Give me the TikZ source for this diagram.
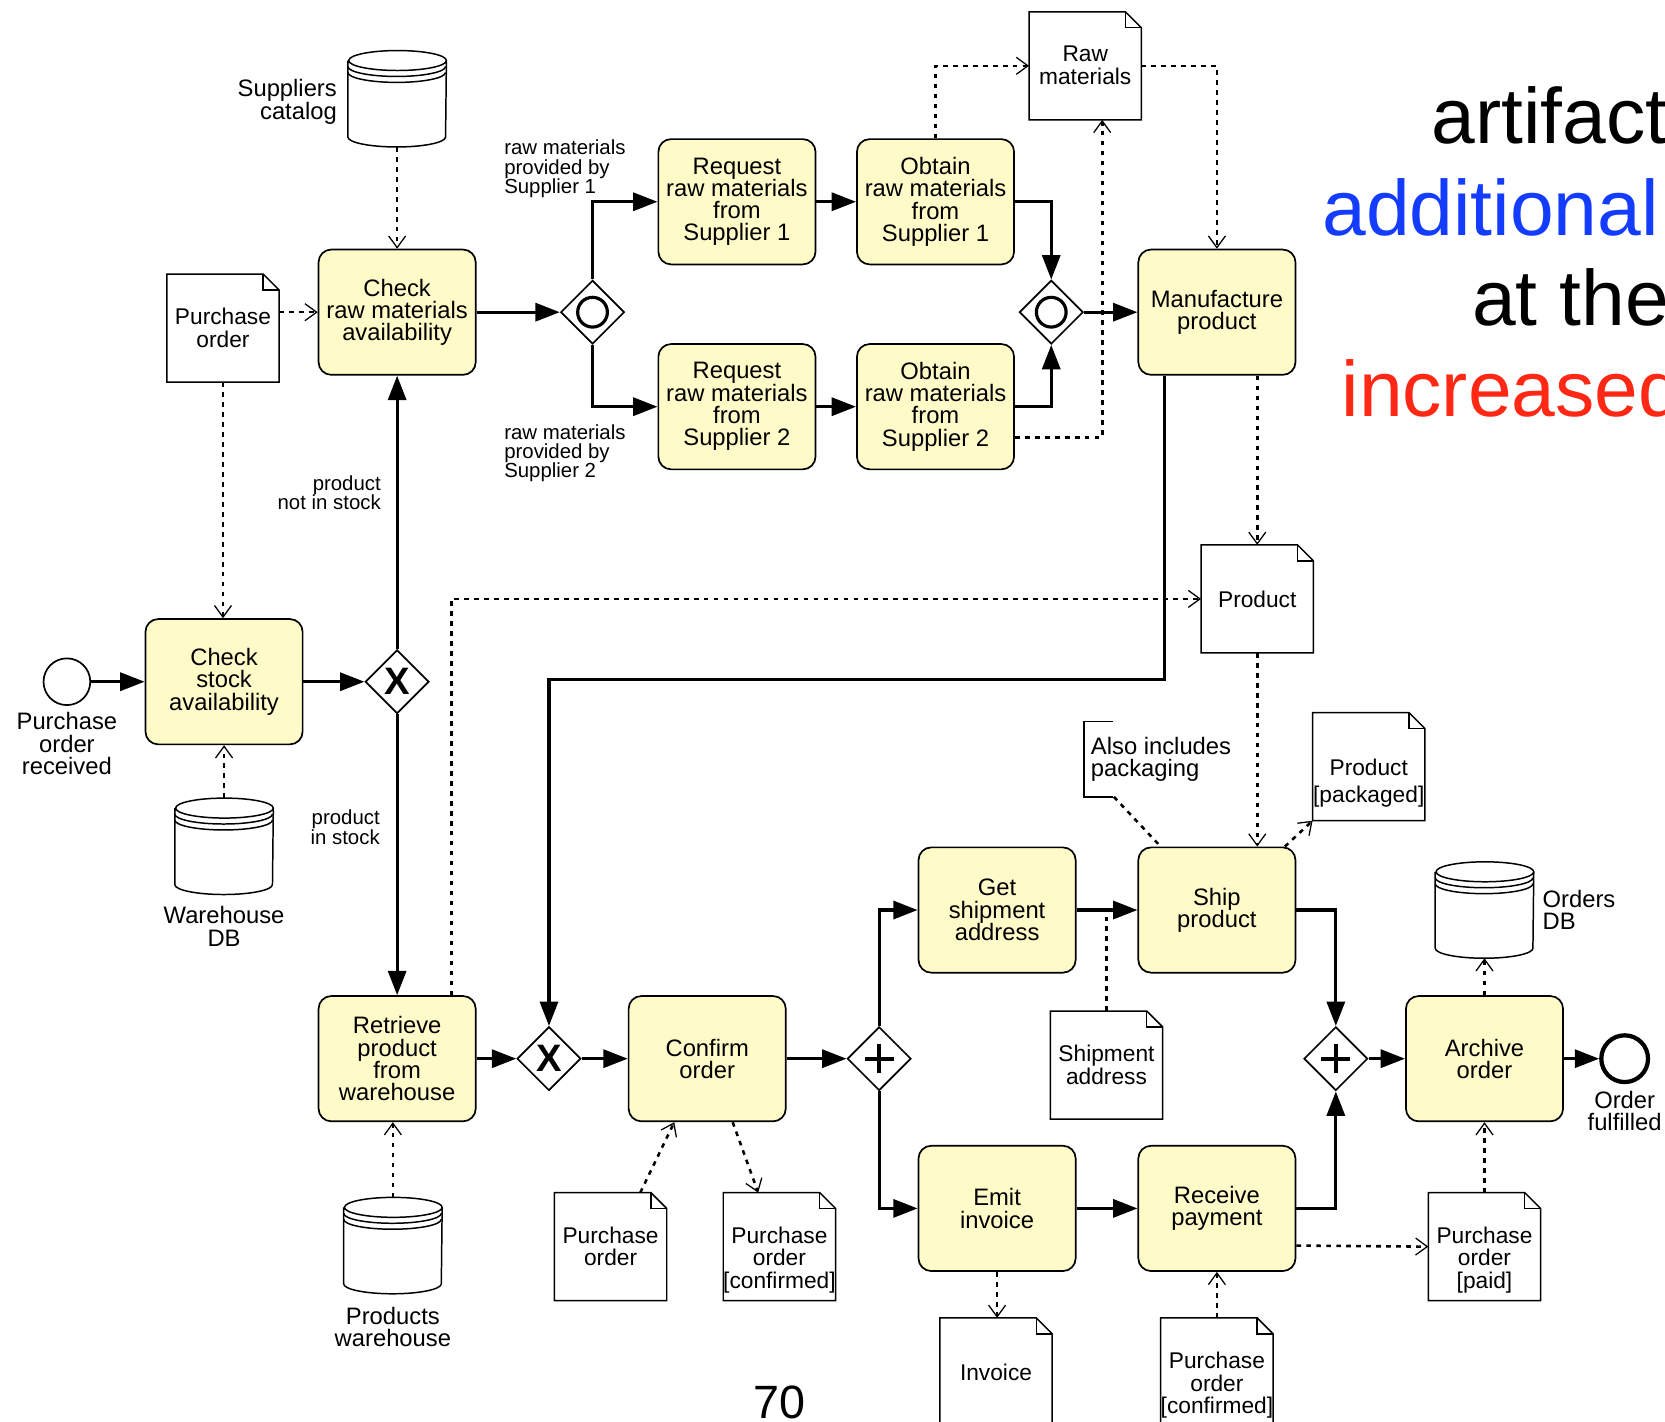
\documentclass[tikz,border=0pt]{standalone}
\usepackage{fontspec}
\setmainfont{Liberation Sans}
\usetikzlibrary{arrows.meta, shapes.geometric, positioning, calc}

\definecolor{taskfill}{RGB}{255,251,200}
\definecolor{slideblue}{RGB}{20,60,255}
\definecolor{slidered}{RGB}{255,40,20}

\newcommand{\bpmnfont}{\fontsize{11.2}{10.5}\selectfont}
\newcommand{\docfont}{\fontsize{10.7}{10.5}\selectfont}
\newcommand{\condfont}{\fontsize{9.6}{9}\selectfont}

% document with folded corner
\newcommand{\docframe}[1]{%
  \draw[docline] (#1.north west) -- ([xshift=-7.5pt]#1.north east) -- ([yshift=-7.5pt]#1.north east) -- (#1.south east) -- (#1.south west) -- cycle;
  \draw[docline] ([xshift=-7.5pt]#1.north east) |- ([yshift=-7.5pt]#1.north east);}

% data store cylinder
\newcommand{\storeframe}[1]{%
  \draw[docline] ([yshift=-4.7pt]#1.north west) -- ([yshift=4.7pt]#1.south west) arc[start angle=180, end angle=360, x radius=23pt, y radius=4.7pt] -- ([yshift=-4.7pt]#1.north east) arc[start angle=0, end angle=360, x radius=23pt, y radius=4.7pt];
  \draw[docline] ([yshift=-7.5pt]#1.north west) arc[start angle=180, end angle=360, x radius=23pt, y radius=4.7pt];
  \draw[docline] ([yshift=-10.3pt]#1.north west) arc[start angle=180, end angle=360, x radius=23pt, y radius=4.7pt];}

\begin{document}
\begin{tikzpicture}[x=0.5pt, y=-0.5pt,
    task/.style={draw, line width=0.8pt, fill=taskfill, rounded corners=6pt, minimum width=74pt, minimum height=59pt, align=center, inner sep=1pt, font=\bpmnfont},
    gate/.style={draw, line width=0.8pt, diamond, shape aspect=1, minimum width=30pt, minimum height=30pt, inner sep=0pt},
    xorgate/.style={gate, font=\fontsize{18}{18}\selectfont\bfseries},
    orgate/.style={gate, path picture={\draw[line width=1.5pt] (path picture bounding box.center) circle (7pt);}},
    andgate/.style={gate, path picture={\draw[line width=1.8pt] ([xshift=-6.8pt]path picture bounding box.center) -- ([xshift=6.8pt]path picture bounding box.center) ([yshift=-6.8pt]path picture bounding box.center) -- ([yshift=6.8pt]path picture bounding box.center);}},
    event/.style={draw, circle, minimum size=22pt, inner sep=0pt, line width=0.8pt},
    endevent/.style={event, line width=2pt},
    doc/.style={minimum width=52.5pt, minimum height=50.5pt, inner sep=0pt},
    doctext/.style={anchor=north, align=center, inner sep=0pt, font=\docfont},
    store/.style={minimum width=46pt, minimum height=45pt, inner sep=0pt},
    docline/.style={line width=0.7pt},
    caption/.style={align=center, inner sep=1pt, font=\bpmnfont},
    flowlabel/.style={inner sep=1pt, font=\condfont},
    note/.style={align=left, inner xsep=3pt, inner ysep=0pt, minimum height=35pt, font=\bpmnfont},
    flow/.style={line width=1.5pt, -{Triangle[length=11.5pt, width=8.5pt]}},
    assocline/.style={line width=1.2pt, dash pattern=on 2.2pt off 2.5pt},
    assoc/.style={assocline, -{Straight Barb[length=5.5pt, width=8pt, line width=0.6pt]}},
    bigtext/.style={anchor=base west, inner sep=0pt, font=\fontsize{37}{37}\selectfont}]

    \useasboundingbox (0,0) rectangle (1568,1339);

    % tasks
    \node[task] (chkraw) at (374,294) {Check\\raw materials\\availability};
    \node[task] (reqA) at (694,190) {Request\\raw materials\\from\\Supplier 1};
    \node[task] (obtA) at (881,190) {Obtain\\raw materials\\from\\Supplier 1};
    \node[task] (reqB) at (694,383) {Request\\raw materials\\from\\Supplier 2};
    \node[task] (obtB) at (881,383) {Obtain\\raw materials\\from\\Supplier 2};
    \node[task] (manuf) at (1146,294) {Manufacture\\product};
    \node[task] (chkstock) at (211,642) {Check\\stock\\availability};
    \node[task] (retrieve) at (374,997) {Retrieve\\product\\from\\warehouse};
    \node[task] (confirm) at (666,997) {Confirm\\order};
    \node[task] (getaddr) at (939,857) {Get\\shipment\\address};
    \node[task] (ship) at (1146,857) {Ship\\product};
    \node[task] (emit) at (939,1138) {Emit\\invoice};
    \node[task] (receive) at (1146,1138) {Receive\\payment};
    \node[task] (archive) at (1398,997) {Archive\\order};

    % gateways
    \node[orgate] (incsplit) at (558,294) {};
    \node[orgate] (incjoin) at (990,294) {};
    \node[xorgate] (xorsplit) at (374,642) {X};
    \node[xorgate] (xorjoin) at (517,997) {X};
    \node[andgate] (andsplit) at (828,997) {};
    \node[andgate] (andjoin) at (1258,997) {};

    % events
    \node[event] (start) at (63,642) {};
    \node[caption, below=2pt of start] (startlbl) {Purchase\\order\\received};
    \node[endevent] (finish) at (1530,997) {};
    \node[caption, below=2pt of finish] (finishlbl) {Order\\fulfilled};

    % data objects
    \node[doc] (po1) at (210,309) {};
    \node[doc] (rawmat) at (1022,62) {};
    \node[doc] (product) at (1184,564) {};
    \node[doc] (prodpkg) at (1289,722) {};
    \node[doc] (shipaddr) at (1042,1003) {};
    \node[doc] (po2) at (575,1174) {};
    \node[doc] (poconfA) at (734,1174) {};
    \node[doc] (invoice) at (938,1292) {};
    \node[doc] (poconfB) at (1146,1292) {};
    \node[doc] (popaid) at (1398,1174) {};
    \foreach \d in {po1, rawmat, product, prodpkg, shipaddr, po2, poconfA, invoice, poconfB, popaid}
        {\docframe{\d}}
    \node[doctext] (po1txt) at ([yshift=-16pt]po1.north) {Purchase\\order};
    \node[doctext] (rawmattxt) at ([yshift=-16pt]rawmat.north) {Raw\\materials};
    \node[doctext] (producttxt) at ([yshift=-21.5pt]product.north) {Product};
    \node[doctext] (prodpkgtxt) at ([yshift=-21.5pt]prodpkg.north) {Product\\[2.2pt]{}[packaged]};
    \node[doctext] (shipaddrtxt) at ([yshift=-16pt]shipaddr.north) {Shipment\\address};
    \node[doctext] (po2txt) at ([yshift=-16pt]po2.north) {Purchase\\order};
    \node[doctext] (poconfAtxt) at ([yshift=-16pt]poconfA.north) {Purchase\\order\\{}[confirmed]};
    \node[doctext] (invoicetxt) at ([yshift=-21.5pt]invoice.north) {Invoice};
    \node[doctext] (poconfBtxt) at ([yshift=-16pt]poconfB.north) {Purchase\\order\\{}[confirmed]};
    \node[doctext] (popaidtxt) at ([yshift=-16pt]popaid.north) {Purchase\\order\\{}[paid]};

    % data stores
    \node[store] (suppliers) at (374,93) {};
    \node[caption, align=right, left=4pt of suppliers, yshift=-1.5pt] (supplierslbl) {Suppliers\\catalog};
    \node[store] (whdb) at (211,797) {};
    \node[caption, below=4.5pt of whdb] (whdblbl) {Warehouse\\DB};
    \node[store] (prodwh) at (370,1173) {};
    \node[caption, below=5pt of prodwh] (prodwhlbl) {Products\\warehouse};
    \node[store] (ordersdb) at (1398,857) {};
    \node[caption, align=left, right=3pt of ordersdb] (ordersdblbl) {Orders\\DB};
    \foreach \s in {suppliers, whdb, prodwh, ordersdb}
        {\storeframe{\s}}

    % text annotation
    \node[note, anchor=west] (note) at (1021,715) {Also includes\\packaging};
    \draw[docline] ([xshift=13.5pt]note.north west) -- (note.north west) -- (note.south west) -- ([xshift=13.5pt]note.south west);

    % flow labels
    \node[flowlabel, align=left] (lblA) at (532,159) {raw materials\\provided by\\Supplier 1};
    \node[flowlabel, align=left] (lblB) at (532,427) {raw materials\\provided by\\Supplier 2};
    \node[flowlabel, align=right, anchor=east] (lblno) at (361,464) {product\\not in stock};
    \node[flowlabel, align=right, anchor=east] (lblyes) at (360,779) {product\\in stock};

    % sequence flows
    \coordinate (bendA) at (517,640);
    \draw[flow] (start) -- (chkstock);
    \draw[flow] (chkstock) -- (xorsplit);
    \draw[flow] (xorsplit.north) -- (chkraw.south);
    \draw[flow] (xorsplit.south) -- (retrieve.north);
    \draw[flow] (chkraw) -- (incsplit);
    \draw[flow] (incsplit.north) |- (reqA);
    \draw[flow] (incsplit.south) |- (reqB);
    \draw[flow] (reqA) -- (obtA);
    \draw[flow] (reqB) -- (obtB);
    \draw[flow] (obtA.east) -| (incjoin.north);
    \draw[flow] (obtB.east) -| (incjoin.south);
    \draw[flow] (incjoin) -- (manuf);
    \draw[flow] ([xshift=-24.5pt]manuf.south) |- (bendA) -- (xorjoin.north);
    \draw[flow] (retrieve) -- (xorjoin);
    \draw[flow] (xorjoin) -- (confirm);
    \draw[flow] (confirm) -- (andsplit);
    \draw[flow] (andsplit.north) |- (getaddr);
    \draw[flow] (andsplit.south) |- (emit);
    \draw[flow] (getaddr) -- (ship);
    \draw[flow] (emit) -- (receive);
    \draw[flow] (ship.east) -| (andjoin.north);
    \draw[flow] (receive.east) -| (andjoin.south);
    \draw[flow] (andjoin) -- (archive);
    \draw[flow] (archive) -- (finish);

    % data associations
    \draw[assoc] (suppliers.south) -- (chkraw.north);
    \draw[assoc] (po1.east |- chkraw.west) -- (chkraw.west);
    \draw[assoc] (po1.south) -- (po1.south |- chkstock.north);
    \draw[assoc] (whdb.north) -- (chkstock.south);
    \draw[assoc] (obtA.north) |- (rawmat.west);
    \draw[assoc] ([yshift=-14.5pt]obtB.east) -| ([xshift=8pt]rawmat.south);
    \draw[assoc] (rawmat.east) -| (manuf.north);
    \draw[assoc] ([xshift=19pt]manuf.south) -- (product.north);
    \draw[assoc] ([xshift=25.5pt]retrieve.north) |- (product.west);
    \draw[assoc] (product.south) -- ([xshift=19pt]ship.north);
    \draw[assoc] ([xshift=32pt]ship.north) -- (prodpkg.south west);
    \draw[assocline] ([xshift=14pt]note.south west) -- ([xshift=-26.5pt]ship.north);
    \draw[assocline] (shipaddr.north) -- (shipaddr.north |- getaddr.east);
    \draw[assoc] (prodwh.north) -- (prodwh.north |- retrieve.south);
    \draw[assoc] ([xshift=14pt]po2.north) -- ([xshift=-15.5pt]confirm.south);
    \draw[assoc] ([xshift=12pt]confirm.south) -- ([xshift=-10pt]poconfA.north);
    \draw[assoc] (emit.south) -- (emit.south |- invoice.north);
    \draw[assoc] (poconfB.north) -- (receive.south);
    \draw[assoc] ([yshift=-17.5pt]receive.east) -- (popaid.west);
    \draw[assoc] (popaid.north) -- (archive.south);
    \draw[assoc] (archive.north) -- (ordersdb.south);

    % slide text
    \node[bigtext] (wordA) at (1348,135) {artifact};
    \node[bigtext, text=slideblue] (wordB) at (1245,222) {additional};
    \node[bigtext] (wordC) at (1386,307) {at the};
    \node[bigtext, text=slidered] (wordD) at (1263,392) {increased};
    \node[anchor=base, inner sep=0pt, font=\fontsize{22}{22}\selectfont] (pagenum) at (734,1336) {70};
\end{tikzpicture}
\end{document}
